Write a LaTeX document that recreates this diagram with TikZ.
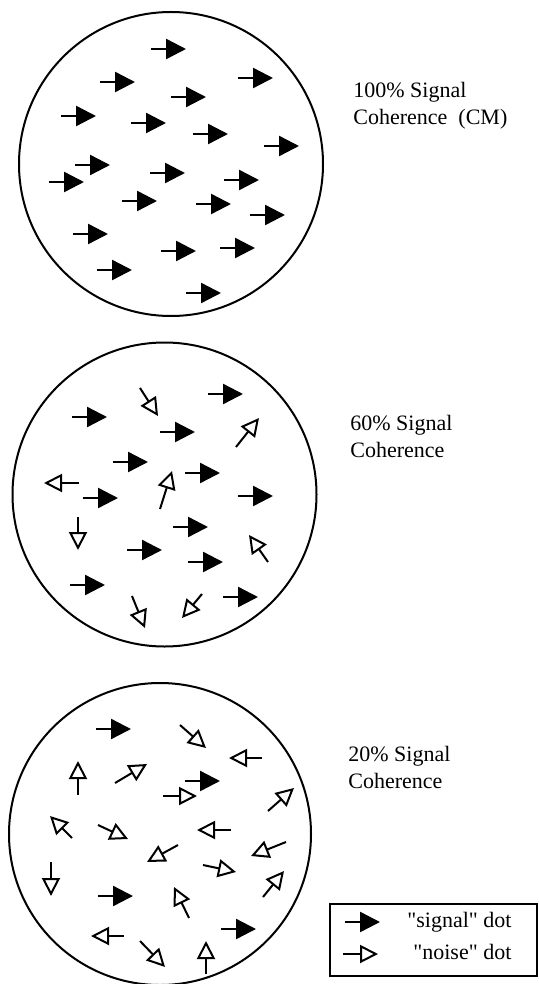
\documentclass[tikz,border=0pt]{standalone}
\usepackage{fontspec}
\setmainfont{Liberation Serif}
\usepackage{tikz}
\usetikzlibrary{arrows.meta}

\tikzset{
  field/.style={draw, line width=1pt},
  sig/.style={line width=1.2pt, -{Triangle[length=10pt,width=10pt]}},
  noise/.style={line width=1pt, -{Triangle[open,length=9pt,width=9pt]}},
  lbl/.style={anchor=north west, inner sep=0pt, align=left, font=\fontsize{11}{13.5}\selectfont},
  key/.style={anchor=base west, inner sep=0pt, font=\fontsize{11}{13.5}\selectfont}
}

\begin{document}
\begin{tikzpicture}[x=0.5pt, y=-0.5pt]
\useasboundingbox (0,0) rectangle (539,984);
\coordinate (C1) at (171,164);
\coordinate (C2) at (164.5,494.5);
\coordinate (C3) at (160,834);
\draw[field] (C1) circle (76pt);
\draw[field] (C2) circle (76pt);
\draw[field] (C3) circle (75.5pt);
\foreach \x/\y in {151/49, 100/82, 238/78, 171/97, 61/116, 131/123, 193/134, 264/146,
  75/165, 49/182, 150/173, 224/180, 122/201, 196/204, 250/215, 73/234, 161/251,
  220/248, 97/270, 186/293}
  \draw[sig] (\x,\y) -- ++(35,0);
\foreach \x/\y in {208/394, 72/417, 160/432, 113/462, 185/473, 83/498, 238/496,
  173/527, 127/550, 188/562, 70/585, 223/597}
  \draw[sig] (\x,\y) -- ++(35,0);
\foreach \a/\b/\c/\d in {140/388/158/416, 236/447/259/418, 79/483/44/483,
  160/509/172/471, 78/517/78/550, 268/562/249/535, 132/596/145/628, 202/594/182/618}
  \draw[noise] (\a,\b) -- (\c,\d);
\foreach \x/\y in {96/729, 185/781, 98/896, 221/929}
  \draw[sig] (\x,\y) -- ++(35,0);
\foreach \a/\b/\c/\d in {180/725/206/748, 262/758/229/758, 78/795/78/761,
  115/783/147/764, 163/796/197/796, 268/811/294/788, 72/838/50/816,
  98/825/128/839, 231/830/197/830, 178/845/147/862, 286/842/251/856,
  51/862/51/896, 203/865/236/872, 263/897/284/871, 189/918/174/887,
  124/936/91/936, 140/941/165/967, 206/974/206/941}
  \draw[noise] (\a,\b) -- (\c,\d);
\node[lbl] (lab100) at (353,82) {100\% Signal\\Coherence\ \ (CM)};
\node[lbl] (lab60) at (350,415) {60\% Signal\\Coherence};
\node[lbl] (lab20) at (348,746) {20\% Signal\\Coherence};
\draw[line width=1pt] (330,904) rectangle (537,976);
\draw[sig] (345,922) -- (380,922);
\draw[noise] (343,954) -- (378,954);
\node[key] (keysig) at (407,927) {\textquotedbl signal\textquotedbl\ dot};
\node[key] (keynoise) at (413,959) {\textquotedbl noise\textquotedbl\ dot};
\end{tikzpicture}
\end{document}
